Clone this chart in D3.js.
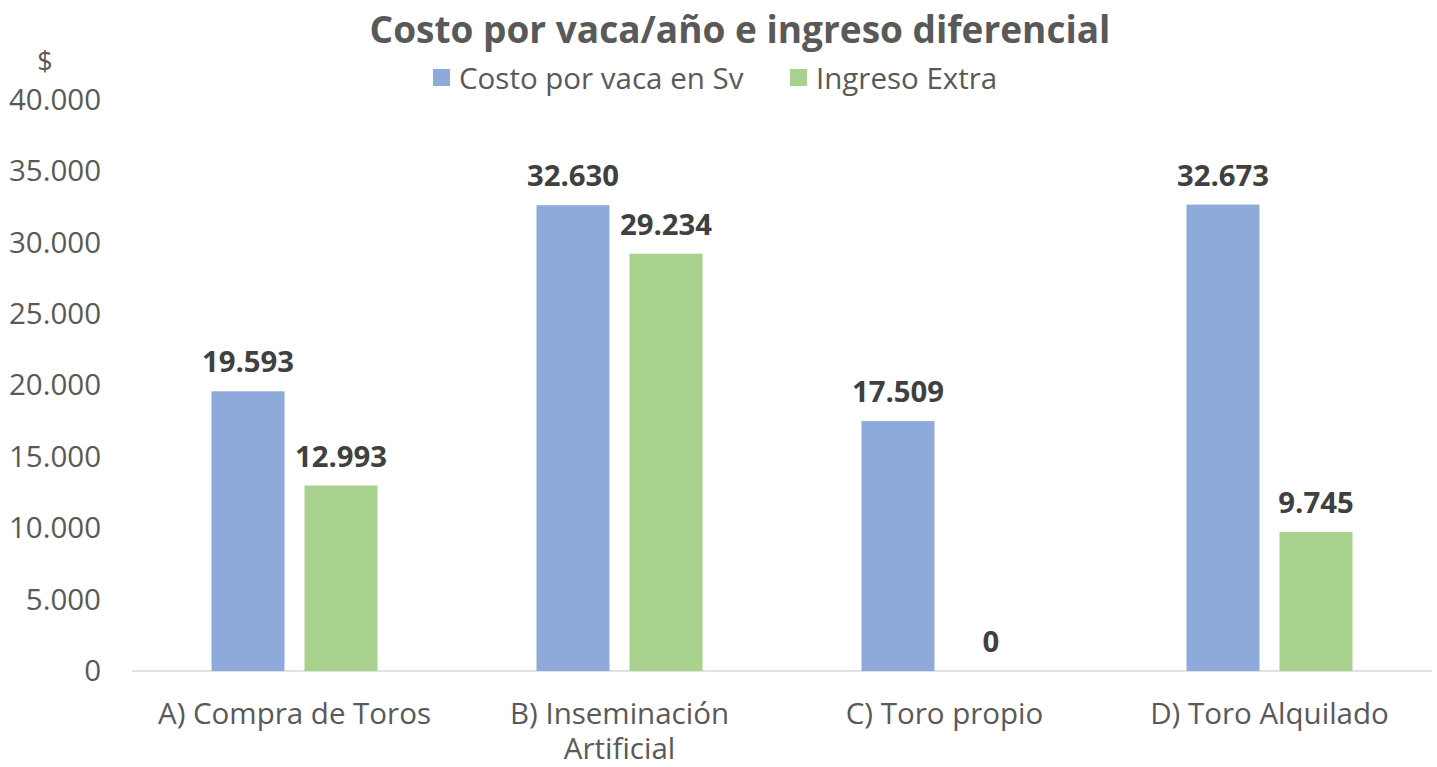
<!DOCTYPE html>
<html>
<head>
<meta charset="utf-8">
<script src="https://cdn.jsdelivr.net/npm/d3@7"></script>
<style>
  body { margin: 0; background: #fff; }
  svg { display: block; font-family: "Open Sans", sans-serif; }
</style>
</head>
<body>
<svg id="chart"></svg>
<script>
// data
const categories = [["A) Compra de Toros"], ["B) Inseminación", "Artificial"], ["C) Toro propio"], ["D) Toro Alquilado"]];
const seriesNames = ["Costo por vaca en Sv", "Ingreso Extra"];
const costo = [19593, 32630, 17509, 32673];
const ingreso = [12993, 29234, 0, 9745];
const yTicks = [0, 5000, 10000, 15000, 20000, 25000, 30000, 35000, 40000];
const colors = ["#8eaadb", "#a9d18e"];

const width = 1437, height = 767;
const margin = { top: 100, right: 5, bottom: 96, left: 132 };
const svg = d3.select("#chart").attr("width", width).attr("height", height);

const fmt = d3.formatLocale({ decimal: ",", thousands: ".", grouping: [3], currency: ["$", ""] }).format(",d");

const catKeys = categories.map((d) => d.join(" "));
const x = d3.scaleBand().domain(catKeys).range([margin.left, width - margin.right]);
const xSub = d3.scaleBand().domain(seriesNames).range([79.5, 79.5 + 166]).paddingInner(20 / 93);
const y = d3.scaleLinear().domain([0, 40000]).range([height - margin.bottom, margin.top]);

// title
svg.append("text")
  .attr("x", 740).attr("y", 43)
  .attr("text-anchor", "middle")
  .attr("font-size", 37).attr("font-weight", "bold")
  .attr("fill", "#595959")
  .text("Costo por vaca/año e ingreso diferencial");

// legend
const legend = svg.append("g");
const legendX = [433, 790];
seriesNames.forEach((s, i) => {
  legend.append("rect")
    .attr("x", legendX[i]).attr("y", 69).attr("width", 17).attr("height", 17)
    .attr("fill", colors[i]);
  legend.append("text")
    .attr("x", legendX[i] + 26).attr("y", 89)
    .attr("font-size", 29.5).attr("fill", "#595959")
    .text(s);
});

// y axis unit
svg.append("text")
  .attr("x", 45).attr("y", 71)
  .attr("text-anchor", "middle")
  .attr("font-size", 27).attr("fill", "#595959")
  .text("$");

// y axis
const yAxis = svg.append("g")
  .attr("transform", `translate(${margin.left},0)`)
  .call(d3.axisLeft(y).tickValues(yTicks).tickFormat(fmt).tickSize(0).tickPadding(31));
yAxis.select(".domain").remove();
yAxis.selectAll("text").attr("font-size", 29.5).attr("fill", "#595959").attr("font-family", "Open Sans");

// baseline
svg.append("line")
  .attr("x1", margin.left).attr("x2", width - margin.right)
  .attr("y1", y(0)).attr("y2", y(0))
  .attr("stroke", "#d9d9d9").attr("stroke-width", 1.5);

// bars
const groups = svg.selectAll(".cat")
  .data(catKeys)
  .enter().append("g")
  .attr("class", "cat")
  .attr("transform", (d) => `translate(${x(d)},0)`);

groups.each(function (c, i) {
  const g = d3.select(this);
  const vals = [costo[i], ingreso[i]];
  vals.forEach((v, j) => {
    const bx = xSub(seriesNames[j]);
    g.append("rect")
      .attr("x", bx).attr("width", xSub.bandwidth())
      .attr("y", y(v)).attr("height", y(0) - y(v))
      .attr("fill", colors[j]);
    g.append("text")
      .attr("x", bx + xSub.bandwidth() / 2)
      .attr("y", y(v) - 19)
      .attr("text-anchor", "middle")
      .attr("font-size", 29.3).attr("font-weight", "bold")
      .attr("fill", "#404040")
      .text(fmt(v));
  });
});

// x labels
groups.append("text")
  .attr("text-anchor", "middle")
  .attr("font-size", 29.5).attr("fill", "#595959")
  .selectAll("tspan")
  .data((d, i) => categories[i])
  .enter().append("tspan")
  .attr("x", x.bandwidth() / 2)
  .attr("y", (d, k) => 724 + k * 35)
  .text((d) => d);
</script>
</body>
</html>
